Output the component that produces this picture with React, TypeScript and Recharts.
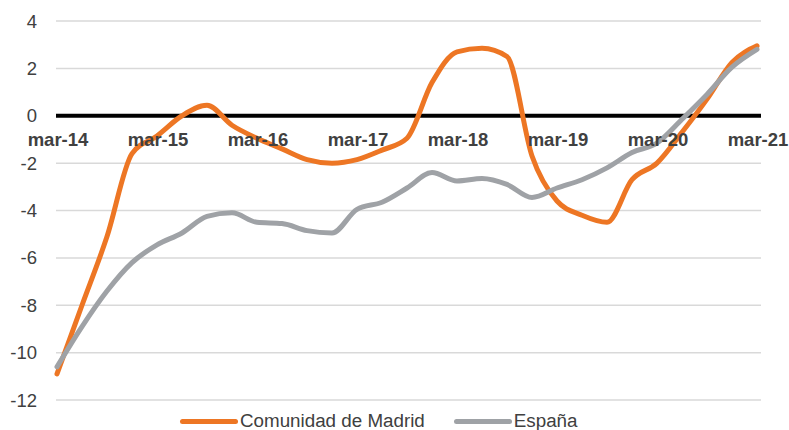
import React from "react";
import {
  LineChart,
  Line,
  XAxis,
  YAxis,
  CartesianGrid,
  ReferenceLine,
  ReferenceDot,
  Legend,
} from "recharts";

const quarters = [
  "mar-14", "jun-14", "sep-14", "dic-14",
  "mar-15", "jun-15", "sep-15", "dic-15",
  "mar-16", "jun-16", "sep-16", "dic-16",
  "mar-17", "jun-17", "sep-17", "dic-17",
  "mar-18", "jun-18", "sep-18", "dic-18",
  "mar-19", "jun-19", "sep-19", "dic-19",
  "mar-20", "jun-20", "sep-20", "dic-20",
  "mar-21",
];

const madrid = [
  -10.9, -8.0, -5.1, -1.6,
  -0.85, 0.0, 0.44, -0.4,
  -0.95, -1.4, -1.85, -2.0,
  -1.85, -1.45, -0.95, 1.4,
  2.7, 2.85, 2.5, -1.7,
  -3.6, -4.2, -4.5, -2.7,
  -2.0, -0.7, 0.7, 2.25,
  2.95,
];

const espana = [
  -10.6, -8.9, -7.4, -6.2,
  -5.45, -4.95, -4.25, -4.1,
  -4.5, -4.55, -4.85, -4.95,
  -3.95, -3.65, -3.05, -2.4,
  -2.75, -2.65, -2.9, -3.45,
  -3.05, -2.7, -2.2, -1.55,
  -1.15, -0.15, 0.9, 2.05,
  2.8,
];

const yearLabels = ["mar-14", "mar-15", "mar-16", "mar-17", "mar-18", "mar-19", "mar-20", "mar-21"];
const yTicks = [-12, -10, -8, -6, -4, -2, 0, 2, 4];

const ORANGE = "#ED7624";
const GRAY = "#9FA2A6";
const TEXT = "#404040";
const FONT = "'Liberation Sans', Arial, sans-serif";

const data = quarters.map((q, i) => ({
  q,
  madrid: madrid[i],
  espana: espana[i],
}));

// year label sitting just under the zero line
const YearLabel = (props: any) => {
  const vb = props.viewBox || {};
  return (
    <text
      x={vb.x + 1}
      y={vb.y + 30}
      textAnchor="middle"
      fontFamily={FONT}
      fontSize={18.5}
      fontWeight="bold"
      fill={TEXT}
    >
      {props.value}
    </text>
  );
};

const ChartLegend = () => (
  <div
    style={{
      height: 30,
      position: "relative",
      fontFamily: FONT,
      fontSize: 18.8,
      color: TEXT,
    }}
  >
    <div style={{ position: "absolute", left: 180, top: 13, display: "flex", alignItems: "center", lineHeight: "16px" }}>
      <span style={{ display: "inline-block", width: 58, height: 5, borderRadius: 3, background: ORANGE, marginRight: 2 }} />
      <span>Comunidad de Madrid</span>
      <span style={{ display: "inline-block", width: 58, height: 5, borderRadius: 3, background: GRAY, marginLeft: 29, marginRight: 2 }} />
      <span>España</span>
    </div>
  </div>
);

export default function App() {
  return (
    <div style={{ position: "absolute", left: 0, top: 0, width: 789, height: 430, background: "#fff" }}>
      <LineChart
        width={789}
        height={430}
        data={data}
        margin={{ top: 21, right: 28, left: 0, bottom: 0 }}
      >
        <CartesianGrid vertical={false} stroke="#D9D9D9" strokeWidth={1.5} />
        <XAxis dataKey="q" hide padding={{ left: 1, right: 4 }} />
        <YAxis
          domain={[-12, 4]}
          ticks={yTicks}
          width={56}
          axisLine={false}
          tickLine={false}
          tickSize={0}
          tickMargin={19}
          tick={{ fill: TEXT, fontSize: 18.5, fontFamily: FONT }}
        />
        <ReferenceLine y={0} stroke="#000" strokeWidth={4} />
        <Line
          type="monotone"
          dataKey="madrid"
          name="Comunidad de Madrid"
          stroke={ORANGE}
          strokeWidth={5}
          strokeLinecap="round"
          dot={false}
          isAnimationActive={false}
        />
        <Line
          type="monotone"
          dataKey="espana"
          name="España"
          stroke={GRAY}
          strokeWidth={5}
          strokeLinecap="round"
          dot={false}
          isAnimationActive={false}
        />
        {yearLabels.map((y) => (
          <ReferenceDot
            key={y}
            x={y}
            y={0}
            r={0}
            fill="none"
            stroke="none"
            label={<YearLabel value={y} />}
          />
        ))}
        <Legend
          verticalAlign="bottom"
          content={<ChartLegend />}
          wrapperStyle={{ left: 0, width: 789 }}
        />
      </LineChart>
    </div>
  );
}
